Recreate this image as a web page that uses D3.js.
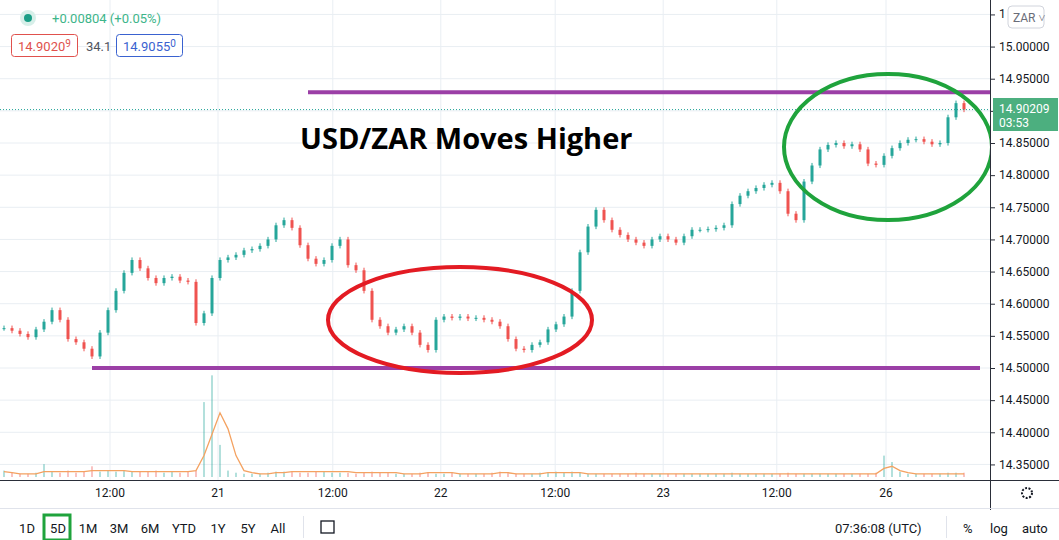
<!DOCTYPE html><html><head><meta charset="utf-8"><script src="https://cdn.jsdelivr.net/npm/d3@7"></script>
<style>body{margin:0;background:#fff;font-family:"Open Sans",Roboto,sans-serif}</style></head><body><svg id="c" width="1059" height="540"></svg>
<script>
const closes=[14.562,14.558,14.553,14.548,14.560,14.572,14.590,14.575,14.545,14.540,14.530,14.518,14.555,14.590,14.620,14.648,14.668,14.655,14.640,14.632,14.640,14.642,14.636,14.634,14.570,14.585,14.640,14.668,14.672,14.676,14.683,14.685,14.690,14.700,14.722,14.730,14.718,14.691,14.670,14.662,14.668,14.690,14.700,14.660,14.652,14.620,14.575,14.565,14.555,14.560,14.565,14.555,14.536,14.528,14.575,14.580,14.578,14.580,14.577,14.578,14.575,14.572,14.565,14.545,14.530,14.528,14.536,14.540,14.560,14.568,14.580,14.620,14.680,14.720,14.746,14.730,14.715,14.707,14.700,14.695,14.690,14.700,14.705,14.700,14.695,14.705,14.715,14.715,14.716,14.718,14.722,14.755,14.768,14.775,14.780,14.785,14.788,14.775,14.740,14.730,14.790,14.815,14.840,14.847,14.850,14.845,14.848,14.840,14.818,14.816,14.830,14.842,14.850,14.855,14.856,14.852,14.848,14.850,14.890,14.912,14.902];
const volumes=[6,4,3,3,4,12,5,4,6,4,5,10,5,6,5,6,5,5,5,6,4,5,4,5,6,70,95,30,6,4,3,3,3,4,5,5,5,4,4,5,5,4,4,4,3,4,5,4,4,3,3,3,4,4,3,3,4,3,3,3,3,4,5,4,3,3,3,4,4,5,4,5,4,3,3,3,3,3,3,4,3,3,3,3,3,3,3,3,3,3,3,4,3,3,3,3,3,3,4,3,3,3,3,3,3,3,3,3,3,4,20,14,5,3,3,3,3,3,4,4,4];
const volMA=[5,4,3,3,3,5,5,5,5,5,5,6,6,6,6,6,5,5,5,5,5,5,5,5,6,20,40,60,45,20,6,4,3,3,4,4,5,5,5,5,5,5,5,5,4,4,4,4,4,4,3,3,3,4,4,4,4,3,3,3,3,3,4,4,3,3,3,3,4,4,4,4,4,3,3,3,3,3,3,3,3,3,3,3,3,3,3,3,3,3,3,3,3,3,3,3,3,3,3,3,3,3,3,3,3,3,3,3,3,3,8,10,6,4,3,3,3,3,3,3,3];
const tickIdx=[13.25,26.75,41.1,54.6,68.9,82.4,96.6,110.25];
const tickLabels=["12:00","21","12:00","22","12:00","23","12:00","26"];
const yTicks=[14.35,14.40,14.45,14.50,14.55,14.60,14.65,14.70,14.75,14.80,14.85,14.90,14.95,15.00,15.05];
const supportLevel=14.50, resistLevel=14.929, lastPrice=14.902;
const buttons=["1D","5D","1M","3M","6M","YTD","1Y","5Y","All"];

const svg=d3.select("#c");
const x=d3.scaleLinear().domain([0,120]).range([4,964]);
const y=d3.scaleLinear().domain([14.85,14.50]).range([143,368]);
const vy=d3.scaleLinear().domain([0,100]).range([477,370]);
const grid="#e9eef3";
svg.append("g").selectAll("line").data(yTicks).join("line").attr("x1",0).attr("x2",990).attr("y1",d=>y(d)).attr("y2",d=>y(d)).attr("stroke",grid);
svg.append("g").selectAll("line").data(tickIdx).join("line").attr("x1",d=>x(d)).attr("x2",d=>x(d)).attr("y1",0).attr("y2",480).attr("stroke",grid);
const vg=svg.append("g");
volumes.forEach((v,i)=>{const up=i==0||closes[i]>=closes[i-1];
 vg.append("rect").attr("x",x(i)-1).attr("width",2).attr("y",vy(v)).attr("height",vy(0)-vy(v)).attr("fill",up?"#26a69a":"#ef5350").attr("opacity",0.35);});
svg.append("path").datum(volMA).attr("fill","none").attr("stroke","#f4a261").attr("stroke-width",1.3).attr("d",d3.line().x((d,i)=>x(i)).y(d=>vy(d)));
const cg=svg.append("g");
closes.forEach((c,i)=>{const o=i?closes[i-1]:c;const up=c>=o;const col=up?"#26a69a":"#ef5350";
 const hi=Math.max(o,c)+0.004, lo=Math.min(o,c)-0.004;
 cg.append("line").attr("x1",x(i)).attr("x2",x(i)).attr("y1",y(hi)).attr("y2",y(lo)).attr("stroke",col);
 cg.append("rect").attr("x",x(i)-1.5).attr("width",3).attr("y",y(Math.max(o,c))).attr("height",Math.max(1,Math.abs(y(o)-y(c)))).attr("fill",col);});
svg.append("line").attr("x1",0).attr("x2",990).attr("y1",y(lastPrice)).attr("y2",y(lastPrice)).attr("stroke","#26a69a").attr("stroke-dasharray","1,2");
svg.append("line").attr("x1",308).attr("x2",993).attr("y1",y(resistLevel)).attr("y2",y(resistLevel)).attr("stroke","#9b3fa6").attr("stroke-width",4);
svg.append("line").attr("x1",92).attr("x2",980).attr("y1",y(supportLevel)).attr("y2",y(supportLevel)).attr("stroke","#9b3fa6").attr("stroke-width",4);
svg.append("ellipse").attr("cx",460).attr("cy",320).attr("rx",132).attr("ry",53).attr("fill","none").attr("stroke","#e31b23").attr("stroke-width",4);
svg.append("ellipse").attr("cx",888).attr("cy",147).attr("rx",104).attr("ry",73).attr("fill","none").attr("stroke","#1fa33c").attr("stroke-width",4);
svg.append("text").attr("x",300).attr("y",149).attr("font-family","Open Sans").attr("font-weight","bold").attr("font-size",29).text("USD/ZAR Moves Higher");
svg.append("rect").attr("x",991).attr("y",0).attr("width",68).attr("height",480).attr("fill","#fff");
svg.append("line").attr("x1",990.5).attr("x2",990.5).attr("y1",0).attr("y2",510).attr("stroke","#2a2e39");
const ya=svg.append("g").attr("transform","translate(990,0)").call(d3.axisRight(y).tickValues(yTicks).tickFormat(d3.format(".5f")).tickSize(5));
ya.select(".domain").remove();ya.selectAll("line").attr("stroke","#2a2e39");
ya.selectAll("text").attr("font-family","Roboto").attr("font-size",12).attr("fill","#131722").attr("x",9);
ya.selectAll(".tick").filter(d=>d>14.89&&d<14.91 || d>15.04).select("text").remove();
svg.append("text").attr("x",999).attr("y",18).attr("font-family","Roboto").attr("font-size",12).attr("fill","#131722").text("1");
svg.append("rect").attr("x",1008).attr("y",6).attr("width",36).attr("height",22).attr("rx",4).attr("fill","#fff").attr("stroke","#d1d4dc");
svg.append("text").attr("x",1013).attr("y",22).attr("font-size",12).attr("font-family","Roboto").attr("fill","#6a6d78").text("ZAR ˅");
svg.append("rect").attr("x",993).attr("y",98).attr("width",65).attr("height",33).attr("fill","#4caf7f");
svg.append("text").attr("x",999).attr("y",113).attr("font-size",12).attr("font-family","Roboto").attr("fill","#fff").text("14.90209");
svg.append("text").attr("x",999).attr("y",127).attr("font-size",12).attr("font-family","Roboto").attr("fill","#fff").text("03:53");
svg.append("line").attr("x1",0).attr("x2",1059).attr("y1",480.5).attr("y2",480.5).attr("stroke","#2a2e39");
svg.append("g").selectAll("text").data(tickIdx).join("text").attr("x",d=>x(d)).attr("y",497).attr("text-anchor","middle").attr("font-family","Roboto").attr("font-size",12).attr("fill","#131722").text((d,i)=>tickLabels[i]);
svg.append("circle").attr("cx",1027).attr("cy",493).attr("r",5).attr("fill","none").attr("stroke","#131722").attr("stroke-width",2).attr("stroke-dasharray","2,1.5");
svg.append("line").attr("x1",0).attr("x2",1059).attr("y1",508.5).attr("y2",508.5).attr("stroke","#e0e3eb");
const bx=[27,58,88,119,150,184,218,248,278];
svg.append("rect").attr("x",44).attr("y",515).attr("width",26).attr("height",25).attr("fill","none").attr("stroke","#1fa33c").attr("stroke-width",3);
svg.append("g").selectAll("text").data(buttons).join("text").attr("x",(d,i)=>bx[i]).attr("y",533).attr("text-anchor","middle").attr("font-family","Roboto").attr("font-size",13).attr("fill","#131722").text(d=>d);
svg.append("line").attr("x1",303.5).attr("x2",303.5).attr("y1",516).attr("y2",538).attr("stroke","#e0e3eb");
svg.append("rect").attr("x",321).attr("y",521).attr("width",13).attr("height",12).attr("fill","none").attr("stroke","#131722").attr("stroke-width",1.3);
svg.append("text").attr("x",835).attr("y",533).attr("font-family","Roboto").attr("font-size",13).attr("fill","#131722").text("07:36:08 (UTC)");
svg.append("line").attr("x1",946.5).attr("x2",946.5).attr("y1",516).attr("y2",538).attr("stroke","#e0e3eb");
[["%",963],["log",990],["auto",1022]].forEach(([t,xx])=>svg.append("text").attr("x",xx).attr("y",533).attr("font-family","Roboto").attr("font-size",13).attr("fill","#131722").text(t));
svg.append("circle").attr("cx",28).attr("cy",18).attr("r",8).attr("fill","#d7efe9");
svg.append("circle").attr("cx",28).attr("cy",18).attr("r",4).attr("fill","#1a9e86");
svg.append("text").attr("x",52).attr("y",23).attr("font-family","Roboto").attr("font-size",13).attr("fill","#3db58a").text("+0.00804 (+0.05%)");
svg.append("rect").attr("x",11.5).attr("y",34.5).attr("width",66).attr("height",22).attr("rx",3).attr("fill","#fff").attr("stroke","#e0514d");
svg.append("text").attr("x",18).attr("y",51).attr("font-family","Roboto").attr("font-size",13).attr("fill","#e0514d").text("14.9020").append("tspan").attr("dy",-4).attr("font-size",10).text("9");
svg.append("text").attr("x",86).attr("y",51).attr("font-family","Roboto").attr("font-size",13).attr("fill","#50535e").text("34.1");
svg.append("rect").attr("x",116.5).attr("y",34.5).attr("width",66).attr("height",22).attr("rx",3).attr("fill","#fff").attr("stroke","#3a62d0");
svg.append("text").attr("x",123).attr("y",51).attr("font-family","Roboto").attr("font-size",13).attr("fill","#3a62d0").text("14.9055").append("tspan").attr("dy",-4).attr("font-size",10).text("0");
</script></body></html>
